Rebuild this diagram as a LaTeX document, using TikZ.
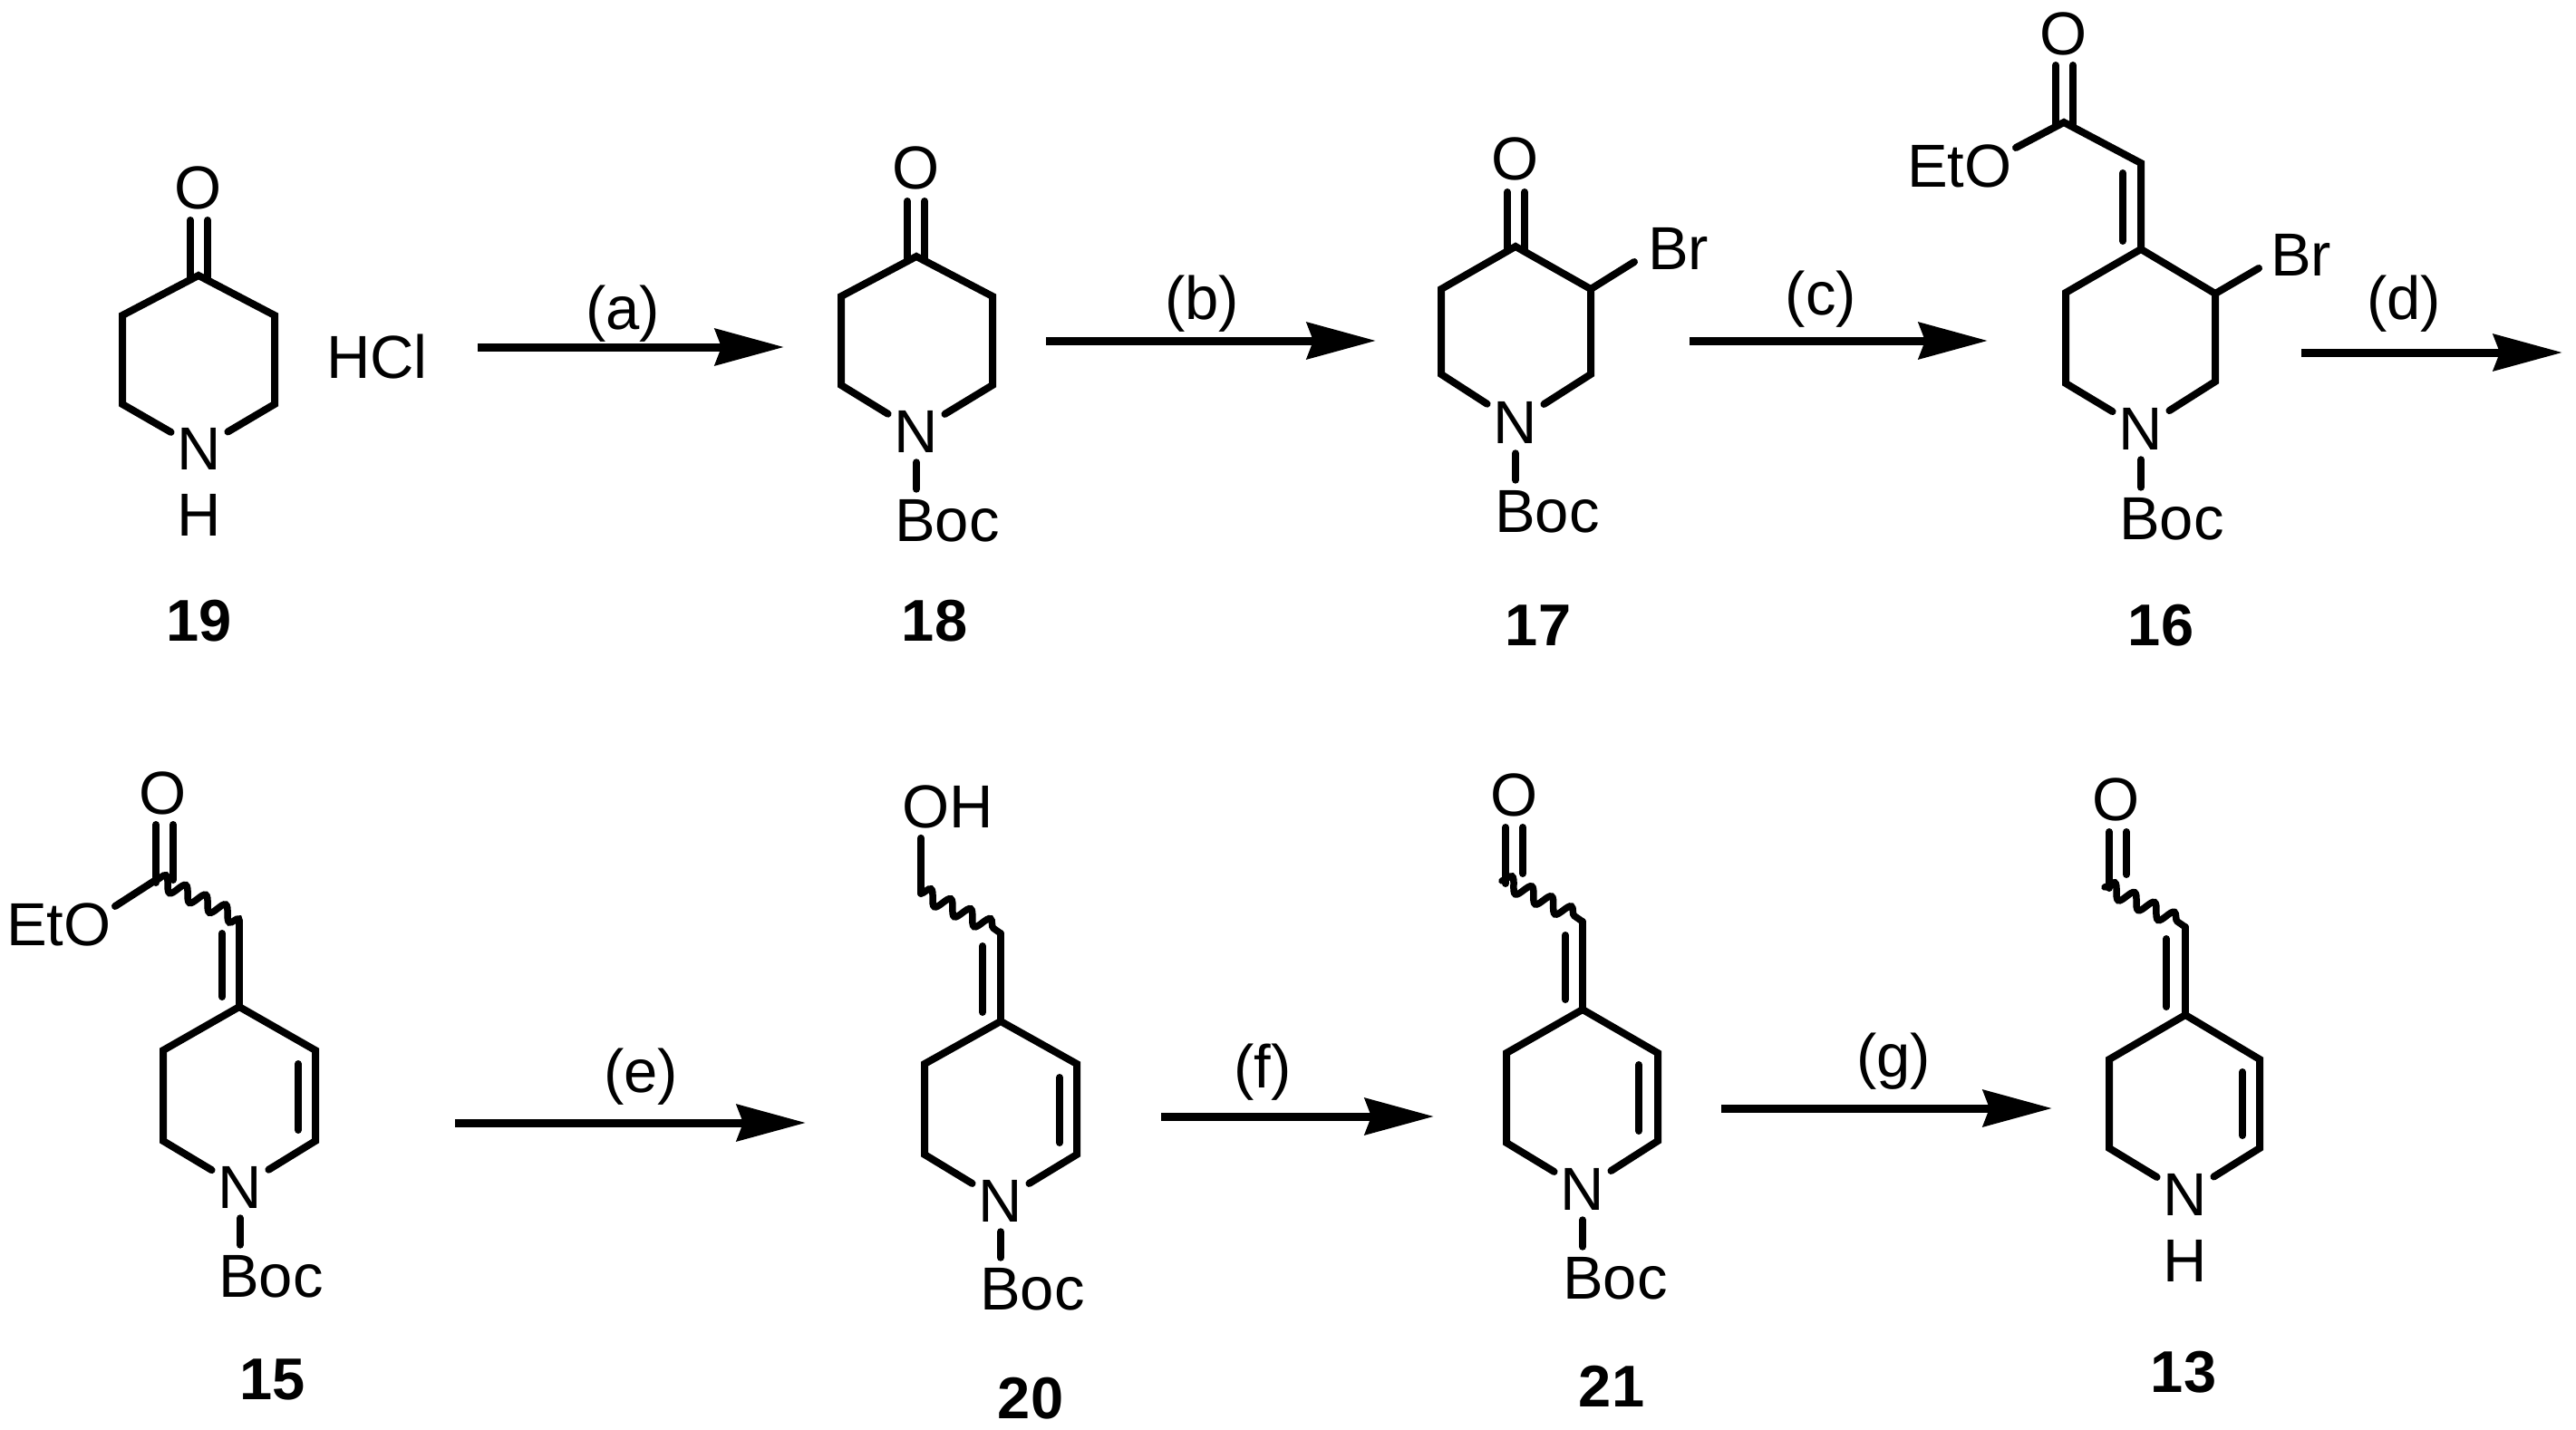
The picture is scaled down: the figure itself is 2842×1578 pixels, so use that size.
\documentclass[tikz,border=0pt]{standalone}
\usepackage{fontspec}
\setmainfont{Liberation Sans}
\usetikzlibrary{arrows.meta,decorations.pathmorphing}
\newcount\segc
\newcommand\seg[4]{\global\advance\segc by 1
  \coordinate (s\the\segc a) at (#1,#2);
  \coordinate (s\the\segc b) at (#3,#4);
  \draw[bond,shorten <=4pt,shorten >=4pt] (s\the\segc a) -- (s\the\segc b);}
\newcommand\ringat[9]{%
  \coordinate (#1t) at (#2,#3);
  \coordinate (#1la) at (#4,#5);
  \coordinate (#1lb) at (#4,#6);
  \coordinate (#1ra) at (#7,#8);
  \coordinate (#1rb) at (#7,#9);
  \draw[bond] (#1n) -- (#1lb) -- (#1la) -- (#1t) -- (#1ra) -- (#1rb) -- (#1n);}
\tikzset{
  bond/.style={line width=8pt,line cap=round,line join=miter,black},
  wavy/.style={line width=7.5pt,line cap=round,black,decorate,decoration={snake,amplitude=8pt,segment length=24.5pt,raise=1.5pt}},
  atom/.style={font=\fontsize{67}{80}\selectfont,inner xsep=7pt,inner ysep=11pt,text=black},
  cmpd/.style={font=\fontsize{65}{78}\selectfont\bfseries,inner sep=0pt,anchor=base,text=black},
  cond/.style={font=\fontsize{67}{80}\selectfont,inner sep=0pt,text=black},
  rxn/.style={line width=9pt,black,-{Stealth[length=76pt,width=40pt,inset=7pt]}},
}
\begin{document}
\begin{tikzpicture}[x=1pt,y=-1pt]
\useasboundingbox (0,0) rectangle (2842,1578);
\fill[white] (0,0) rectangle (2842,1578);

% 19
\node[atom] (an) at (220,495) {N};
\ringat{a}{219}{304}{135}{348}{446}{303}{348}{446}
\node[atom] (ao) at (219,207) {O};
\node[atom] (ah) at (220,568) {H};
\seg{210}{239}{210}{311}\seg{229}{239}{229}{311}
\node[atom,anchor=base west] (hcl) at (353,417) {HCl};
\node[cmpd] (l19) at (220,707) {19};

% 18
\node[atom] (bn) at (1011,476) {N};
\ringat{b}{1011}{283}{928}{327}{425}{1095}{327}{425}
\node[atom] (bo) at (1011,185) {O};
\seg{1001}{218}{1001}{290}\seg{1020}{218}{1020}{290}
\node[atom,anchor=base west] (bb) at (980,597) {Boc};
\draw[bond] (bn.south) -- (bn.south |- bb.north);
\node[cmpd] (l18) at (1031,707) {18};

% 17
\node[atom] (cn) at (1672,466) {N};
\ringat{c}{1672}{272}{1590}{319}{413}{1755}{319}{413}
\node[atom] (co) at (1672,175) {O};
\seg{1663}{208}{1663}{279}\seg{1682}{208}{1682}{279}
\node[atom,anchor=base west] (cbr) at (1811,298) {Br};
\coordinate (cbe) at (1803,289);
\draw[bond] (cra) -- (cbe);
\node[atom,anchor=base west] (cb) at (1642,587) {Boc};
\draw[bond] (cn.south) -- (cn.south |- cb.north);
\node[cmpd] (l17) at (1697,712) {17};

% 16
\node[atom] (dn) at (2362,473) {N};
\ringat{d}{2362}{275}{2279}{323}{423}{2444}{324}{421}
\node[atom,anchor=base west] (dbr) at (2498,305) {Br};
\coordinate (dbe) at (2492,296);
\draw[bond] (dra) -- (dbe);
\node[atom,anchor=base west] (db) at (2331,595) {Boc};
\draw[bond] (dn.south) -- (dn.south |- db.north);
\node[cmpd] (l16) at (2384,712) {16};
\coordinate (dx) at (2362,180);
\coordinate (dc) at (2277,135);
\coordinate (dq) at (2224,163);
\draw[bond] (dt) -- (dx) -- (dc) -- (dq);
\seg{2342}{187}{2342}{270}
\seg{2268}{68}{2268}{142}\seg{2287}{68}{2287}{142}
\node[atom] (do) at (2277,37) {O};
\node[atom,anchor=base west] (de) at (2097,207) {EtO};

% 15
\node[atom] (en) at (265,1310) {N};
\ringat{e}{264}{1111}{180}{1159}{1259}{348}{1159}{1259}
\seg{329}{1170}{329}{1251}
\coordinate (ex) at (264,1016);
\coordinate (ec) at (172,971);
\coordinate (eq) at (127,1000);
\draw[bond] (et) -- (ex);
\draw[wavy] (ec) -- (ex);
\draw[bond] (ec) -- (eq);
\seg{245}{1026}{245}{1104}
\seg{172}{906}{172}{978}\seg{191}{906}{191}{975}
\node[atom] (eo) at (180,875) {O};
\node[atom,anchor=base west] (ee) at (0,1043) {EtO};
\node[atom,anchor=base west] (eb) at (234,1431) {Boc};
\draw[bond] (en.south) -- (en.south |- eb.north);
\node[cmpd] (l15) at (301,1544) {15};

% 20
\node[atom] (fn) at (1104,1325) {N};
\ringat{f}{1104}{1127}{1020}{1174}{1274}{1188}{1174}{1274}
\seg{1169}{1185}{1169}{1265}
\coordinate (fx) at (1104,1030);
\coordinate (fc) at (1016,986);
\draw[bond] (ft) -- (fx);
\draw[wavy] (fc) -- (fx);
\seg{1084}{1040}{1084}{1121}
\node[atom,anchor=base west] (fo) at (988,913) {OH};
\draw[bond] (fc) -- (fc |- fo.south);
\node[atom,anchor=base west] (fb) at (1074,1445) {Boc};
\draw[bond] (fn.south) -- (fn.south |- fb.north);
\node[cmpd] (l20) at (1137,1565) {20};

% 21
\node[atom] (gn) at (1746,1312) {N};
\ringat{g}{1746}{1114}{1662}{1162}{1261}{1829}{1162}{1259}
\seg{1808}{1171}{1808}{1252}
\coordinate (gx) at (1746,1017);
\coordinate (gc) at (1657,972);
\draw[bond] (gt) -- (gx);
\draw[wavy] (gc) -- (gx);
\seg{1727}{1028}{1727}{1107}
\seg{1661}{909}{1661}{979}\seg{1680}{909}{1680}{968}
\node[atom] (go) at (1671,877) {O};
\node[atom,anchor=base west] (gb) at (1717,1433) {Boc};
\draw[bond] (gn.south) -- (gn.south |- gb.north);
\node[cmpd] (l21) at (1778,1552) {21};

% 13
\node[atom] (hn) at (2411,1318) {N};
\ringat{h}{2411}{1120}{2327}{1169}{1267}{2493}{1169}{1267}
\seg{2474}{1179}{2474}{1257}
\coordinate (hx) at (2411,1023);
\coordinate (hc) at (2322,979);
\draw[bond] (ht) -- (hx);
\draw[wavy] (hc) -- (hx);
\seg{2390}{1032}{2390}{1115}
\seg{2327}{914}{2327}{984}\seg{2346}{914}{2346}{969}
\node[atom] (ho) at (2335,882) {O};
\node[atom,anchor=base] (hh) at (2411,1414) {H};
\node[cmpd] (l13) at (2409,1536) {13};

% arrows
\coordinate (r1a) at (527,383); \coordinate (r1b) at (865,383);
\coordinate (r2a) at (1154,376); \coordinate (r2b) at (1518,376);
\coordinate (r3a) at (1864,376); \coordinate (r3b) at (2193,376);
\coordinate (r4a) at (2539,389); \coordinate (r4b) at (2827,389);
\coordinate (r5a) at (502,1239); \coordinate (r5b) at (889,1239);
\coordinate (r6a) at (1281,1232); \coordinate (r6b) at (1582,1232);
\coordinate (r7a) at (1899,1223); \coordinate (r7b) at (2264,1223);
\foreach \i in {1,...,7} {\draw[rxn] (r\i a) -- (r\i b);}
\node[cond] (ca) at (687,346) {(a)};
\node[cond] (cb2) at (1326,335) {(b)};
\node[cond] (cc) at (2009,330) {(c)};
\node[cond] (cd) at (2652,335) {(d)};
\node[cond] (ce) at (707,1188) {(e)};
\node[cond] (cf) at (1393,1183) {(f)};
\node[cond] (cg) at (2089,1171) {(g)};
\end{tikzpicture}
\end{document}
